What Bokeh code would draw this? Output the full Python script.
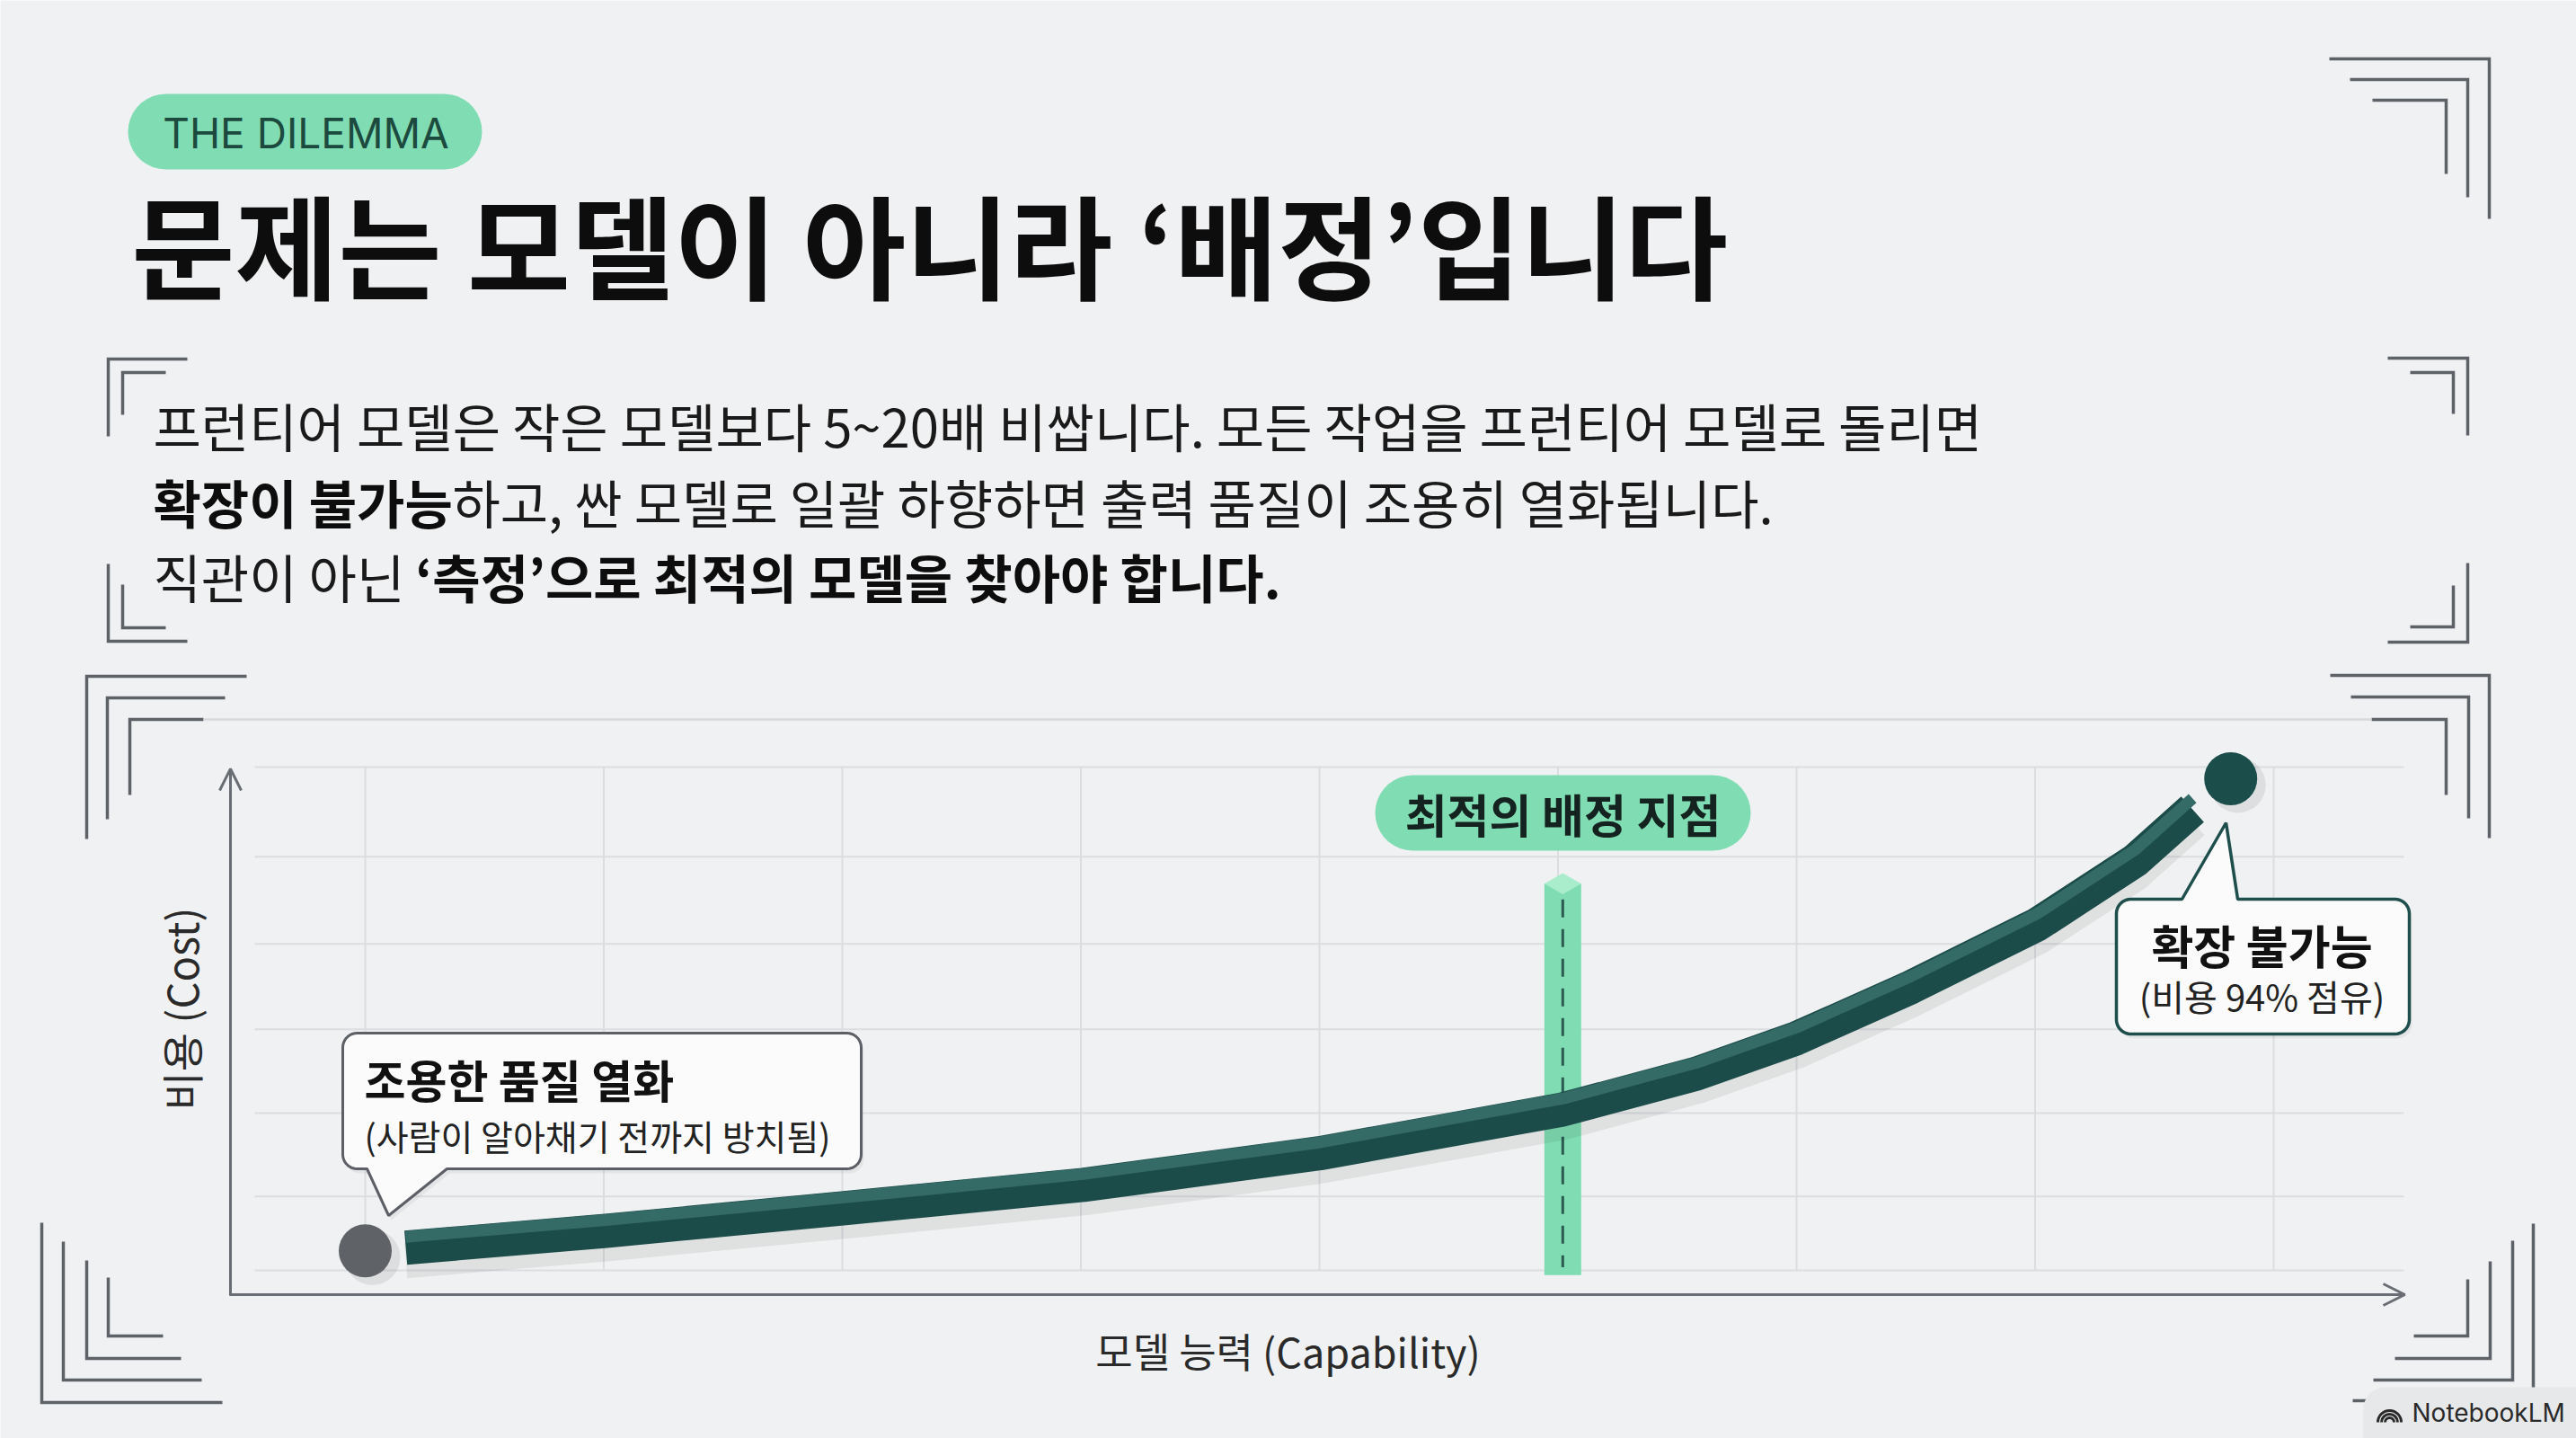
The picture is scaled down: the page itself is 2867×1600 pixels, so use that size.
import numpy as np
from bokeh.plotting import figure
from bokeh.models import Range1d, Arrow, OpenHead
from bokeh.core.properties import value
from bokeh.embed import file_html
from bokeh.resources import INLINE

# ---------------- data ----------------
tag_text = "THE DILEMMA"
title_text = "문제는 모델이 아니라 ‘배정’입니다"
body_line1 = "프런티어 모델은 작은 모델보다 5~20배 비쌉니다. 모든 작업을 프런티어 모델로 돌리면"
body_line2_bold = "확장이 불가능"
body_line2_rest = "하고, 싼 모델로 일괄 하향하면 출력 품질이 조용히 열화됩니다."
body_line3_rest = "직관이 아닌 "
body_line3_bold = "‘측정’으로 최적의 모델을 찾아야 합니다."

x_axis_label = "모델 능력 (Capability)"
y_axis_label = "비용 (Cost)"

# cost curve (capability vs cost, chart units)
capability = [1.17, 2.01, 3.01, 4.01, 5.0, 6.02, 6.58, 7.0, 7.48, 8.01, 8.42, 8.66]
cost = [8.9, 12.1, 16.4, 20.8, 26.8, 35.1, 41.9, 48.6, 58.3, 70.2, 82.3, 92.0]

# end points of the curve
point_caps = [1.0, 8.82]
point_costs = [8.3, 97.8]
point_colors = ["#5f6267", "#1b4d4a"]

optimal_cap = 6.02
optimal_label = "최적의 배정 지점"

grid_caps = [1, 2, 3, 4, 5, 6, 7, 8, 9]
grid_costs = [100, 83, 66.5, 50.3, 34.4, 18.6, 4.6]

low_title = "조용한 품질 열화"
low_sub = "(사람이 알아채기 전까지 방치됨)"
high_title = "확장 불가능"
high_sub = "(비용 94% 점유)"
watermark = "NotebookLM"

# ---------------- layout / style ----------------
W, H = 2867, 1600
BG = "#f0f1f2"
MINT = "#80ddb3"
TEAL = "#1c4c49"
BRACKET = "#5d6168"
GRID = "#dcdde0"
AXIS = "#696d74"
KR = value("Noto Sans CJK KR")

# chart mapping: pixel = X_ORIGIN + (cap-1)*X_UNIT ; pixel = Y_ORIGIN - cost*Y_UNIT
X_ORIGIN, X_UNIT = 406.0, 265.5
Y_ORIGIN, Y_UNIT = 1440.0, 5.87


def cap_of(px):
    return 1 + (px - X_ORIGIN) / X_UNIT


def cost_range(base):
    return Range1d(start=(base - H) / Y_UNIT, end=base / Y_UNIT)


p = figure(width=W, height=H, x_range=Range1d(0, W), y_range=Range1d(H, 0),
           output_backend="svg", toolbar_location=None, min_border=0,
           x_axis_type=None, y_axis_type=None,
           background_fill_color=BG, border_fill_color=BG, outline_line_color=None)
p.grid.visible = False
p.extra_x_ranges = {"cap": Range1d(cap_of(0), cap_of(W))}
p.extra_y_ranges = {"cost": cost_range(Y_ORIGIN),
                    "cost_hi": cost_range(Y_ORIGIN - 12),
                    "cost_sh": cost_range(Y_ORIGIN + 14)}


def shape(x0, y0, x1, y1, r, tail=None, n=10):
    """rounded rectangle in y-down pixel coords, optional tail ('top'|'bottom', xa, xb, tx, ty)"""
    xs, ys = [], []

    def arc(cx, cy, a0, a1):
        for t in np.linspace(np.radians(a0), np.radians(a1), n):
            xs.append(cx + r * np.cos(t))
            ys.append(cy + r * np.sin(t))

    xs.append(x0 + r); ys.append(y0)
    if tail and tail[0] == "top":
        _, xa, xb, tx, ty = tail
        xs += [xa, tx, xb]; ys += [y0, ty, y0]
    arc(x1 - r, y0 + r, -90, 0)
    arc(x1 - r, y1 - r, 0, 90)
    if tail and tail[0] == "bottom":
        _, xa, xb, tx, ty = tail
        xs += [xb, tx, xa]; ys += [y1, ty, y1]
    arc(x0 + r, y1 - r, 90, 180)
    arc(x0 + r, y0 + r, 180, 270)
    return xs, ys


def text(x, y, t, size, bold=False, color="#141414", align="left", font=KR, angle=0):
    p.text(x=[x], y=[y], text=[t], text_font=font, text_font_size=value(f"{size}px"),
           text_font_style="bold" if bold else "normal", text_color=color,
           text_align=align, text_baseline="middle", angle=angle)


# ---------------- decorative corner brackets ----------------
brackets = [
    [(2592, 65), (2770, 65), (2770, 243)], [(2615, 88), (2746, 88), (2746, 219)],
    [(2640, 111), (2722, 111), (2722, 193)],
    [(2657, 398), (2746, 398), (2746, 484)], [(2682, 414), (2730, 414), (2730, 460)],
    [(2746, 626), (2746, 714), (2657, 714)], [(2730, 651), (2730, 697), (2682, 697)],
    [(120, 485), (120, 399), (208, 399)], [(136, 461), (136, 414), (184, 414)],
    [(120, 627), (120, 713), (208, 713)], [(136, 650), (136, 698), (184, 698)],
    [(96, 933), (96, 752), (274, 752)], [(119, 911), (119, 776), (250, 776)],
    [(144, 884), (144, 800), (226, 800)],
    [(2593, 751), (2770, 751), (2770, 932)], [(2616, 775), (2747, 775), (2747, 910)],
    [(2639, 800), (2722, 800), (2722, 884)],
    [(46, 1360), (46, 1560), (247, 1560)], [(70, 1381), (70, 1535), (224, 1535)],
    [(96, 1402), (96, 1511), (201, 1511)], [(120, 1421), (120, 1486), (181, 1486)],
    [(2819, 1361), (2819, 1558), (2618, 1558)], [(2796, 1380), (2796, 1535), (2641, 1535)],
    [(2771, 1403), (2771, 1511), (2665, 1511)], [(2746, 1423), (2746, 1486), (2686, 1486)],
]
p.multi_line(xs=[[a[0] for a in b] for b in brackets], ys=[[a[1] for a in b] for b in brackets],
             line_color=BRACKET, line_width=3.5, line_join="miter")
# chart panel top border
p.line(x=[226, 2639], y=[800, 800], line_color="#d6d8db", line_width=2.5)

# ---------------- header ----------------
xs, ys = shape(142, 104, 536, 188, 42)
p.patch(xs, ys, fill_color=MINT, line_color=None)
text(340, 147, tag_text, 46, color="#1c4a3f", align="center", font=value("Inter"))
text(146, 269, title_text, 125, bold=True, color="#0d0d0d")

text(170, 472, body_line1, 58, color="#1a1a1a")
text(170, 557, body_line2_bold, 58, bold=True, color="#0d0d0d")
text(503, 557, body_line2_rest, 58, color="#1a1a1a")
text(170, 640, body_line3_rest, 58, color="#1a1a1a")
text(462, 640, body_line3_bold, 58, bold=True, color="#0d0d0d")

# ---------------- chart ----------------
gx0, gx1 = cap_of(283), cap_of(2675)
p.multi_line(xs=[[c, c] for c in grid_caps], ys=[[grid_costs[0], grid_costs[-1]]] * len(grid_caps),
             x_range_name="cap", y_range_name="cost", line_color=GRID, line_width=2)
p.multi_line(xs=[[gx0, gx1]] * len(grid_costs), ys=[[c, c] for c in grid_costs],
             x_range_name="cap", y_range_name="cost", line_color=GRID, line_width=2)

# axes with arrows
p.add_layout(Arrow(end=OpenHead(size=24, line_color=AXIS, line_width=3), x_start=256, y_start=1441,
                   x_end=256, y_end=855, line_color=AXIS, line_width=3))
p.add_layout(Arrow(end=OpenHead(size=24, line_color=AXIS, line_width=3), x_start=255, y_start=1440,
                   x_end=2676, y_end=1440, line_color=AXIS, line_width=3))
text(1433, 1502, x_axis_label, 45, color="#2a2a2a", align="center")
text(200, 1122, y_axis_label, 47, color="#2a2a2a", align="center", angle=np.pi / 2)

# optimal allocation bar
b_bot, b_top, b_tip = 3.7, 77.9, 79.9
hw = 20.5 / X_UNIT
p.quad(left=[optimal_cap - hw], right=[optimal_cap + hw], bottom=[b_bot], top=[b_top],
       x_range_name="cap", y_range_name="cost", fill_color=MINT, line_color=None)
p.patch(x=[optimal_cap - hw, optimal_cap, optimal_cap + hw, optimal_cap],
        y=[b_top, b_tip, b_top, b_top - 2.0], x_range_name="cap", y_range_name="cost",
        fill_color="#a9edcd", line_color=None)
p.segment(x0=[optimal_cap], y0=[b_top - 3.0], x1=[optimal_cap], y1=[b_bot + 1.5],
          x_range_name="cap", y_range_name="cost", line_color="#2c5a50", line_width=3,
          line_dash="20 13")

# label pill
xs, ys = shape(1530, 862, 1948, 946, 42)
p.patch(xs, ys, fill_color=MINT, line_color=None)
text(1739, 904, optimal_label, 51, bold=True, color="#14231f", align="center")

# curve (shadow, body, top face)
p.line(capability, cost, x_range_name="cap", y_range_name="cost_sh", line_color="#000000",
       line_alpha=0.07, line_width=40, line_join="round", line_cap="butt")
p.line(capability, cost, x_range_name="cap", y_range_name="cost", line_color=TEAL,
       line_width=38, line_join="round", line_cap="butt")
p.line(capability, cost, x_range_name="cap", y_range_name="cost_hi", line_color="#346b67",
       line_width=13, line_join="round", line_cap="butt")

# end points
p.scatter(x=[c + 0.03 for c in point_caps], y=[v - 1.2 for v in point_costs], x_range_name="cap",
          y_range_name="cost", size=62, fill_color="#000000", fill_alpha=0.08, line_color=None)
p.scatter(x=point_caps, y=point_costs, x_range_name="cap", y_range_name="cost", size=59,
          fill_color=point_colors, line_color=None)

# callout: quiet degradation
xs, ys = shape(381, 1149, 958, 1300, 16, tail=("bottom", 408, 497, 432, 1352))
p.patch([x + 3 for x in xs], [y + 5 for y in ys], fill_color="#000000", fill_alpha=0.05, line_color=None)
p.patch(xs, ys, fill_color="#fbfbfb", line_color="#5c6066", line_width=3)
text(405, 1199, low_title, 50, bold=True, color="#111111")
text(405, 1262, low_sub, 39, color="#222222")

# callout: not scalable
xs, ys = shape(2355, 1000, 2681, 1150, 16, tail=("top", 2428, 2490, 2477, 915))
p.patch([x + 3 for x in xs], [y + 5 for y in ys], fill_color="#000000", fill_alpha=0.05, line_color=None)
p.patch(xs, ys, fill_color="#fbfbfb", line_color="#1f4f4c", line_width=3.5)
text(2517, 1050, high_title, 51, bold=True, color="#111111", align="center")
text(2517, 1107, high_sub, 40, color="#222222", align="center")

# watermark
xs, ys = shape(2630, 1543, 2900, 1630, 24)
p.patch(xs, ys, fill_color="#e7e8ea", line_color=None)
p.arc(x=[2659] * 3, y=[1582] * 3, radius=[5, 9, 13], radius_units="screen", start_angle=0,
      end_angle=np.pi, line_color="#2a2a2a", line_width=3)
text(2684, 1571, watermark, 28, color="#2a2a2a", font=value("Inter"))

open("out.html", "w").write(file_html(p, INLINE))
